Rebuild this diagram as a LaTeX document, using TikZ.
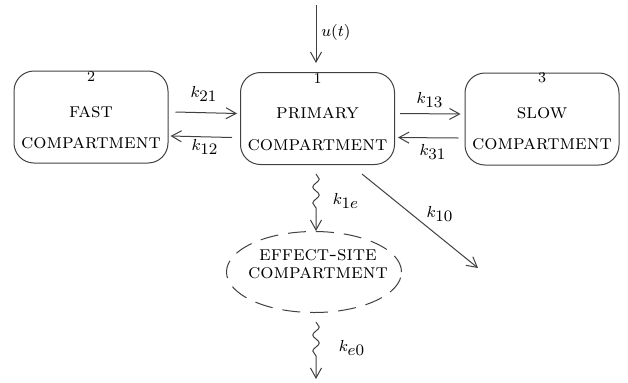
\documentclass[tikz,border=0pt]{standalone}
\usetikzlibrary{arrows.meta,decorations.pathmorphing,shapes.geometric}
\begin{document}
\begin{tikzpicture}[x=0.5pt,y=-0.5pt,
  line/.style={draw=black!75, line width=0.5pt},
  comp/.style={line, rounded corners=10pt, minimum width=77pt, minimum height=46pt, inner sep=0pt},
  flow/.style={line, -{Straight Barb[length=5pt,width=5.5pt]}},
  wavy/.style={flow, decorate, decoration={snake, amplitude=1.6pt, segment length=8pt, post length=9pt}},
  txt/.style={inner sep=0pt, font=\fontsize{10.4}{12}\selectfont},
  num/.style={inner sep=0pt, font=\fontsize{7.5}{9}\selectfont},
  rate/.style={inner sep=0pt, font=\fontsize{8.5}{10}\selectfont}]
\useasboundingbox (0,0) rectangle (628,382);

% compartments
\node[comp] (fast) at (91,117) {};
\node[comp] (prim) at (317.5,118.5) {};
\node[comp] (slow) at (542,119) {};
\node[line, dashed, dash pattern=on 9pt off 5pt, ellipse, minimum width=87.5pt, minimum height=40.5pt, inner sep=0pt] (eff) at (314,272) {};

% compartment texts
\node[num] (fastnum) at (91,77) {2};
\node[num] (primnum) at (317.5,79) {1};
\node[num] (slownum) at (542,78) {3};
\node[txt] (fastname) at (91,112) {\textsc{fast}};
\node[txt] (fastcomp) at (91,143) {\textsc{compartment}};
\node[txt] (primname) at (317.5,113) {\textsc{primary}};
\node[txt] (primcomp) at (317.5,145) {\textsc{compartment}};
\node[txt] (slowname) at (542,113) {\textsc{slow}};
\node[txt] (slowcomp) at (542,144) {\textsc{compartment}};
\node[txt] (effname) at (318,255.5) {\textsc{effect-site}};
\node[txt] (effcomp) at (318,273.5) {\textsc{compartment}};

% free ends
\coordinate (dose) at (316,5);
\coordinate (elim) at (478,268);
\coordinate (sink) at (316,379);

% flows
\draw[flow] (dose) -- ([xshift=-0.75pt,yshift=4.5pt]prim.north);
\draw[flow] ([xshift=3.5pt,yshift=2.5pt]fast.east) -- ([xshift=-1.5pt,yshift=2.5pt]prim.west);
\draw[flow] ([xshift=-4pt,yshift=-9.5pt]prim.west) -- ([xshift=1pt,yshift=-9.5pt]fast.east);
\draw[flow] ([xshift=2.5pt,yshift=2.5pt]prim.east) -- ([xshift=-2pt,yshift=2.5pt]slow.west);
\draw[flow] ([xshift=-3pt,yshift=-9.5pt]slow.west) -- ([xshift=1.5pt,yshift=-9.5pt]prim.east);
\draw[flow] ([xshift=22.25pt,yshift=-4.5pt]prim.south) -- (elim);
\draw[wavy] ([xshift=-0.75pt,yshift=-4.5pt]prim.south) -- ([xshift=1pt]eff.north);
\draw[wavy] ([xshift=1pt,yshift=-4.5pt]eff.south) -- (sink);

% rate labels
\node[rate] (lu) at (336,32) {$u(t)$};
\node[rate] (l21) at (204,94) {$k_{\textstyle 21}$};
\node[rate] (l12) at (205,147) {$k_{\textstyle 12}$};
\node[rate] (l13) at (430,100) {$k_{\textstyle 13}$};
\node[rate] (l31) at (433,152) {$k_{\textstyle 31}$};
\node[rate] (l1e) at (346,201) {$k_{\textstyle 1e}$};
\node[rate] (l10) at (440,214) {$k_{\textstyle 10}$};
\node[rate] (le0) at (352,348) {$k_{\textstyle e0}$};
\end{tikzpicture}
\end{document}
